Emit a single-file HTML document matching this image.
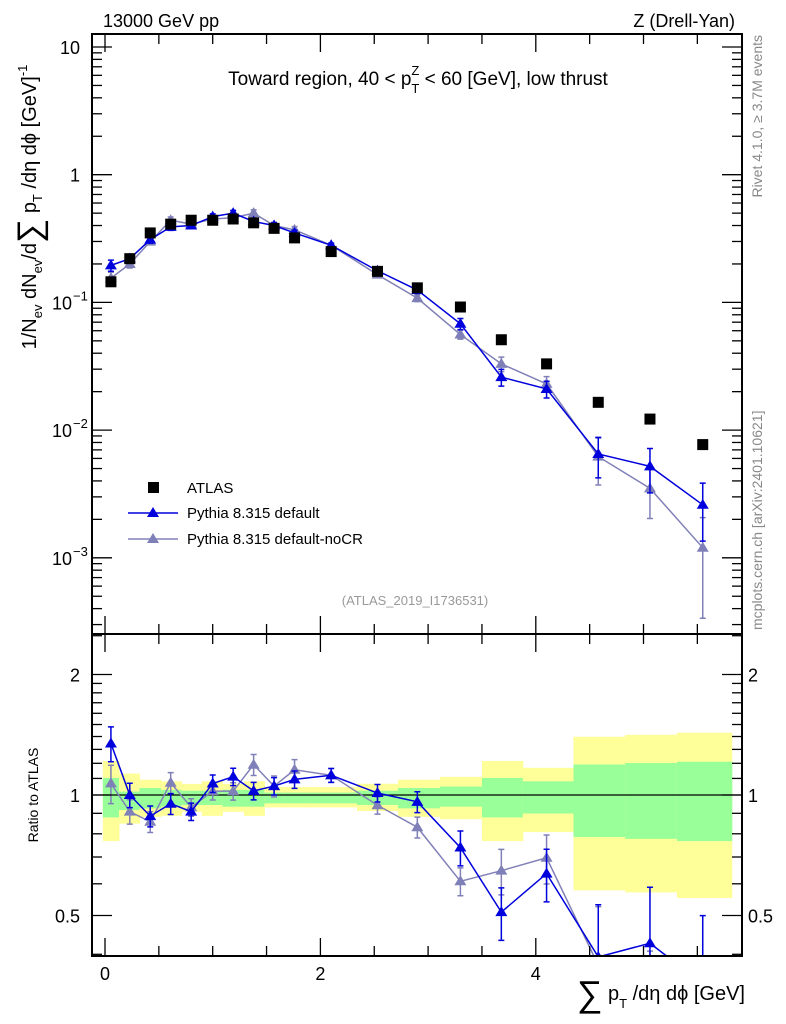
<!DOCTYPE html>
<html><head><meta charset="utf-8"><style>
html,body{margin:0;padding:0;background:#fff;overflow:hidden;}
svg{font-family:"Liberation Sans",sans-serif;display:block;}
</style></head><body>
<svg id="c" width="786" height="1024" xmlns="http://www.w3.org/2000/svg">
<defs>
<clipPath id="mainClip"><rect x="92" y="34" width="650" height="600"/></clipPath>
<clipPath id="ratioClip"><rect x="92" y="634" width="650" height="322"/></clipPath>
</defs>
<g id="bands" clip-path="url(#ratioClip)"></g>
<g id="ratioMarks" clip-path="url(#ratioClip)"></g>
<g id="mainMarks" clip-path="url(#mainClip)"></g>
<g id="axes"></g>
<text x="103" y="27" font-size="18">13000 GeV pp</text>
<text x="735" y="27" font-size="18" text-anchor="end">Z (Drell-Yan)</text>
<text x="418" y="85" font-size="19" text-anchor="middle">Toward region, 40 &lt; p<tspan font-size="13" dy="8">T</tspan><tspan font-size="13" dx="-8" dy="-18">Z</tspan><tspan dy="10"> &lt; 60 [GeV], low thrust</tspan></text>
<text transform="translate(762,35) rotate(-90)" font-size="14" fill="#888" text-anchor="end">Rivet 4.1.0, ≥ 3.7M events</text>
<text transform="translate(762,630) rotate(-90)" font-size="14" fill="#888">mcplots.cern.ch [arXiv:2401.10621]</text>
<text transform="translate(36,207) rotate(-90)" font-size="20" text-anchor="middle">1/N<tspan font-size="13" dy="6">ev</tspan><tspan dy="-6"> dN</tspan><tspan font-size="13" dy="6">ev</tspan><tspan dy="-6">/d</tspan><tspan font-size="34" dy="5">∑</tspan><tspan dy="-5"> p</tspan><tspan font-size="13" dy="6">T</tspan><tspan dy="-6"> /dη dϕ  [GeV]</tspan><tspan font-size="13" dy="-9">-1</tspan></text>
<text transform="translate(38,795) rotate(-90)" font-size="14" text-anchor="middle">Ratio to ATLAS</text>
<text x="745" y="1000" font-size="20" text-anchor="end"><tspan font-size="36" dy="6">∑</tspan><tspan dy="-6"> p</tspan><tspan font-size="13" dy="8">T</tspan><tspan dy="-8"> /dη dϕ [GeV]</tspan></text>
<text x="415" y="605" font-size="13" fill="#999" text-anchor="middle">(ATLAS_2019_I1736531)</text>
<g>
<rect x="148" y="482" width="11" height="11" fill="#000"/>
<text x="187" y="493" font-size="15">ATLAS</text>
<line x1="128" y1="513" x2="178" y2="513" stroke="#0000dd" stroke-width="1.5"/>
<path d="M153,507 L159,517 L147,517 Z" fill="#0000dd"/>
<text x="187" y="518" font-size="15">Pythia 8.315 default</text>
<line x1="128" y1="539" x2="178" y2="539" stroke="#8080b8" stroke-width="1.5"/>
<path d="M153,533 L159,543 L147,543 Z" fill="#8080b8"/>
<text x="187" y="544" font-size="15">Pythia 8.315 default-noCR</text>
</g>
</svg>
<script>
const xCenters=[0.055,0.23,0.42,0.61,0.8,1.0,1.19,1.38,1.57,1.76,2.1,2.53,2.9,3.3,3.68,4.1,4.58,5.06,5.55];
const binEdges=[-0.02,0.13,0.32,0.52,0.71,0.9,1.09,1.29,1.48,1.67,1.87,2.34,2.72,3.11,3.5,3.88,4.35,4.83,5.31,5.82];
const atlas=[0.145,0.22,0.35,0.41,0.44,0.44,0.45,0.42,0.38,0.32,0.25,0.175,0.13,0.092,0.051,0.033,0.0165,0.0122,0.0077];
const pyDefault=[0.195,0.22,0.31,0.39,0.40,0.47,0.50,0.43,0.40,0.35,0.28,0.177,0.125,0.068,0.026,0.021,0.0065,0.0052,0.0026];
const pyNoCR=[0.155,0.20,0.30,0.44,0.41,0.45,0.46,0.50,0.40,0.37,0.28,0.165,0.108,0.056,0.033,0.023,0.0062,0.0035,0.0012];
const relErrDefault=[0.1,0.07,0.06,0.06,0.05,0.05,0.05,0.05,0.05,0.05,0.04,0.05,0.06,0.1,0.15,0.15,0.35,0.38,0.48];
const relErrNoCR=[0.11,0.07,0.06,0.06,0.05,0.05,0.05,0.06,0.06,0.06,0.04,0.05,0.06,0.08,0.13,0.14,0.4,0.42,0.72];
const yellowUp=[1.216,1.131,1.092,1.082,1.066,1.082,1.066,1.082,1.047,1.047,1.047,1.067,1.092,1.11,1.216,1.169,1.398,1.414,1.431];
const yellowDn=[0.767,0.848,0.882,0.887,0.908,0.887,0.908,0.887,0.931,0.931,0.931,0.912,0.882,0.870,0.767,0.808,0.578,0.571,0.553];
const greenUp=[1.103,1.02,1.041,1.03,1.025,1.025,1.03,1.03,1.014,1.014,1.014,1.025,1.041,1.05,1.103,1.082,1.192,1.202,1.211];
const greenDn=[0.879,0.917,0.926,0.935,0.944,0.944,0.935,0.935,0.953,0.953,0.953,0.944,0.926,0.935,0.879,0.899,0.785,0.777,0.767];
const xTicksMajor=[0,2,4];
const ratioTickLabels=[0.5,1,2];
const mainTickExps=[1,0,-1,-2,-3];

const NS='http://www.w3.org/2000/svg';
const X=v=>105+v*107.7;
const Y=v=>47+(1-Math.log10(v))*127.7;
const R=r=>795-Math.log2(r)*120.5;
function mk(parent,tag,attrs){const e=document.createElementNS(NS,tag);for(const k in attrs)e.setAttribute(k,attrs[k]);parent.appendChild(e);return e;}
const bands=document.getElementById('bands');
const rm=document.getElementById('ratioMarks');
const mm=document.getElementById('mainMarks');
const ax=document.getElementById('axes');

for(let i=0;i<19;i++){
  const x1=X(binEdges[i]),x2=X(binEdges[i+1]);
  const y=mk(bands,'rect',{x:x1,y:R(yellowUp[i]),width:x2-x1+0.5,height:R(yellowDn[i])-R(yellowUp[i]),fill:'#ffff99'});
  
  
  const g=mk(bands,'rect',{x:x1,y:R(greenUp[i]),width:x2-x1+0.5,height:R(greenDn[i])-R(greenUp[i]),fill:'#99ff99'});
  
  
}
const one=mk(rm,'line',{x1:92,x2:742,y1:R(1),y2:R(1),stroke:'#000','stroke-width':1.2});



function tri(parent,cx,cy,col,name){
  const p=mk(parent,'path',{d:`M${cx},${cy-6} L${cx+6},${cy+4} L${cx-6},${cy+4} Z`,fill:col});
  
  
}
function drawSeries(vals,err,col,name){
  let d='',dr='';
  vals.forEach((v,i)=>{const px=X(xCenters[i]);d+=(i?'L':'M')+px+','+Y(v);dr+=(i?'L':'M')+px+','+R(v/atlas[i]);});
  const l=mk(mm,'path',{d:d,fill:'none',stroke:col,'stroke-width':1.5});
  
  
  const lr=mk(rm,'path',{d:dr,fill:'none',stroke:col,'stroke-width':1.5});
  
  
  vals.forEach((v,i)=>{
    const px=X(xCenters[i]);
    const hi=v*(1+err[i]),lo=Math.max(v*(1-err[i]),1e-6);
    [[mm,Y],[rm,r=>R(r/atlas[i])]].forEach(([par,f],k)=>{
      const e=mk(par,'path',{d:`M${px},${f(hi)}L${px},${f(lo)}M${px-3},${f(hi)}L${px+3},${f(hi)}M${px-3},${f(lo)}L${px+3},${f(lo)}`,stroke:col,'stroke-width':1.5,fill:'none'});
      
      
      tri(par,px,f(v),col,name+(k?'-ratio-point':'-point'));
    });
  });
}
drawSeries(pyNoCR,relErrNoCR,'#8080b8','pythia-nocr');
drawSeries(pyDefault,relErrDefault,'#0000dd','pythia-default');
atlas.forEach((v,i)=>{
  const s=mk(mm,'rect',{x:X(xCenters[i])-5.5,y:Y(v)-5.5,width:11,height:11,fill:'#000'});
  
  
});

const f1=mk(ax,'rect',{x:92,y:34,width:650,height:600,fill:'none',stroke:'#000','stroke-width':2});


const f2=mk(ax,'rect',{x:92,y:634,width:650,height:322,fill:'none',stroke:'#000','stroke-width':2});


function tk(x1,y1,x2,y2){const t=mk(ax,'line',{x1,y1,x2,y2,stroke:'#000','stroke-width':1.3});

}
function lbl(x,y,s,anchor,size){const t=mk(ax,'text',{x,y,'font-size':size||18,'text-anchor':anchor});t.textContent=s;

return t;}
for(let v=0;v<=5.75;v+=0.5){
  const major=xTicksMajor.includes(v);const L=major?18:10;const px=X(v);
  tk(px,634,px,634-L);tk(px,34,px,34+L);tk(px,956,px,956-L);tk(px,634,px,634+L);
}
xTicksMajor.forEach(v=>lbl(X(v),980,String(v),'middle',18));
for(let e=-4;e<=1;e++){
  for(let m=1;m<10;m++){
    const v=m*Math.pow(10,e);const py=Y(v);if(py<34||py>634)continue;
    const L=m===1?20:10;tk(92,py,92+L,py);tk(742,py,742-L,py);
  }
}
mainTickExps.forEach(e=>{
  const py=Y(Math.pow(10,e));
  if(e>=0){lbl(80,py+7,String(Math.pow(10,e)),'end',18);}
  else{const t=lbl(72,py+7,'10','end',18);const s=mk(ax,'text',{x:73,y:py-2,'font-size':13});s.textContent='−'+(-e);
  
  }
});
[0.4,0.5,0.6,0.7,0.8,0.9,1,1.1,1.2,1.3,1.4,1.5,1.6,1.7,1.8,1.9,2,2.5].forEach(r=>{
  const py=R(r);if(py<634||py>956)return;const L=(r===0.5||r===1||r===2)?20:10;
  tk(92,py,92+L,py);tk(742,py,742-L,py);
});
ratioTickLabels.forEach(r=>{lbl(80,R(r)+7,String(r),'end',18);lbl(748,R(r)+7,String(r),'start',18);});
</script>
</body></html>
